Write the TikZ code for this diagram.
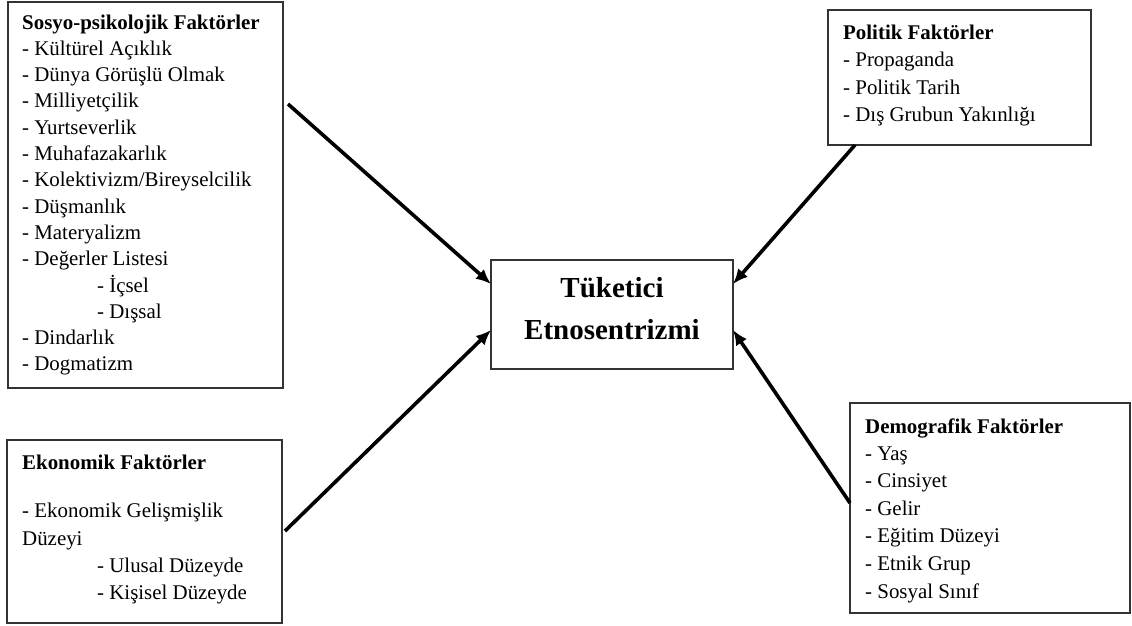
\documentclass[tikz,border=0pt]{standalone}
\usepackage{fontspec}
\setmainfont{Liberation Serif}
\usetikzlibrary{arrows.meta}
\begin{document}
\begin{tikzpicture}[x=1pt,y=-1pt,
  box/.style={draw=black!80, line width=1.3pt, inner sep=0pt, rectangle},
  item/.style={anchor=base west, inner sep=0pt, font=\fontsize{20.9}{24}\selectfont},
  head/.style={anchor=base west, inner sep=0pt, font=\fontsize{20.9}{24}\selectfont\bfseries},
  ctext/.style={anchor=base, inner sep=0pt, font=\fontsize{29}{42}\selectfont\bfseries},
  arr/.style={line width=3.6pt, -{Latex[length=15pt,width=13pt]}}]
\useasboundingbox (0,0) rectangle (1132,625);

% boxes
\node[box, minimum width=275pt, minimum height=386pt] (tl) at (145.5,195) {};
\node[box, minimum width=275pt, minimum height=183pt] (bl) at (144.5,531.5) {};
\node[box, minimum width=242pt, minimum height=109pt] (cen) at (612,314.5) {};
\node[box, minimum width=263pt, minimum height=135pt] (tr) at (959.5,77.5) {};
\node[box, minimum width=280pt, minimum height=210pt] (br) at (990,508) {};

% top-left text
\node[head] (tl0) at (22,29) {Sosyo-psikolojik Faktörler};
\foreach \lbl [count=\i] in {- Kültürel Açıklık, - Dünya Görüşlü Olmak, - Milliyetçilik, - Yurtseverlik, - Muhafazakarlık, - Kolektivizm/Bireyselcilik, - Düşmanlık, - Materyalizm, - Değerler Listesi, \hspace*{75pt}- İçsel, \hspace*{75pt}- Dışsal, - Dindarlık, - Dogmatizm}
  \node[item] (tl\i) at (22,{29+26.3*\i}) {\lbl};

% bottom-left text
\node[head] (bl0) at (22,469) {Ekonomik Faktörler};
\node[item] (bl1) at (22,517) {- Ekonomik Gelişmişlik};
\node[item] (bl2) at (22,545) {Düzeyi};
\node[item] (bl3) at (97,572) {- Ulusal Düzeyde};
\node[item] (bl4) at (97,599) {- Kişisel Düzeyde};

% top-right text
\node[head] (tr0) at (843,39) {Politik Faktörler};
\foreach \lbl [count=\i] in {- Propaganda, - Politik Tarih, - Dış Grubun Yakınlığı}
  \node[item] (tr\i) at (843,{39+27.6*\i}) {\lbl};

% bottom-right text
\node[head] (br0) at (865,433) {Demografik Faktörler};
\foreach \lbl [count=\i] in {- Yaş, - Cinsiyet, - Gelir, - Eğitim Düzeyi, - Etnik Grup, - Sosyal Sınıf}
  \node[item] (br\i) at (865,{432.5+27.6*\i}) {\lbl};

% center text
\node[ctext] (c1) at (612,297) {Tüketici};
\node[ctext] (c2) at (612,339) {Etnosentrizmi};

% arrow end points
\coordinate (a1s) at (288,104);
\coordinate (a1e) at (491,284);
\coordinate (a2s) at (285,531);
\coordinate (a2e) at (491,330);
\coordinate (a3s) at (855,145);
\coordinate (a3e) at (733,284);
\coordinate (a4s) at (850,503);
\coordinate (a4e) at (733,330);

\draw[arr] (a1s) -- (a1e);
\draw[arr] (a2s) -- (a2e);
\draw[arr] (a3s) -- (a3e);
\draw[arr] (a4s) -- (a4e);
\end{tikzpicture}
\end{document}
